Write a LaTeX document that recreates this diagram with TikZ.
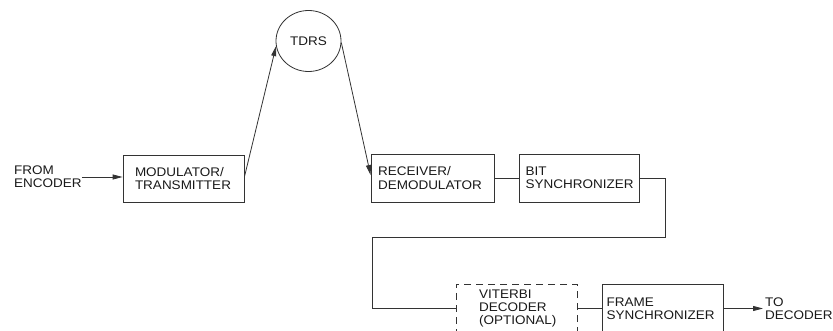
\documentclass[tikz,border=0pt]{standalone}
\usepackage{fontspec}
\setmainfont{Liberation Sans}[FakeStretch=1.08]
\usetikzlibrary{arrows.meta,shapes.geometric}
\begin{document}
\begin{tikzpicture}[x=1pt,y=-1pt,
  font=\fontsize{12.5}{13.3}\selectfont,
  ln/.style={draw=black!80, line width=0.8pt},
  arr/.style={ln, -{Triangle[length=10pt,width=5pt]}},
  blk/.style={ln, rectangle, align=left, inner ysep=0pt, text=black!90},
  lbl/.style={align=left, anchor=west, inner sep=0pt, text=black!90}]
\useasboundingbox (0,0) rectangle (833,331);
\node[blk, minimum height=47pt, text width=97pt, inner xsep=12pt] (mod) at (183.5,178.5) {MODULATOR/\\TRANSMITTER};
\node[blk, minimum height=48pt, text width=109pt, inner xsep=7pt] (rec) at (432.5,178) {RECEIVER/\\DEMODULATOR};
\node[blk, minimum height=48pt, text width=106.6pt, inner xsep=6.7pt] (bit) at (579,178) {BIT\\SYNCHRONIZER};
\node[blk, dash pattern=on 7pt off 5pt, minimum height=49pt, text width=75pt, inner xsep=23pt] (vit) at (516.5,308.5) {VITERBI\\DECODER\\(OPTIONAL)};
\node[blk, minimum height=48pt, text width=111.6pt, inner xsep=4.7pt] (frame) at (662.5,308.5) {FRAME\\SYNCHRONIZER};
\node[ln, ellipse, minimum width=65pt, minimum height=61pt, inner sep=0pt, text=black!90] (tdrs) at (308.5,41) {TDRS};
\node[lbl] (from) at (14,177) {FROM\\ENCODER};
\node[lbl] (to) at (765,308.5) {TO\\DECODER};
\coordinate (toend) at (763,308.5);
\coordinate (c1) at (665,237);
\coordinate (c2) at (372,237);
\draw[arr] (from.east) -- (from.east -| mod.west);
\draw[arr] ([yshift=1.5pt]mod.east) -- (tdrs.189);
\draw[arr] (tdrs.-3) -- ([yshift=3pt]rec.west);
\draw[ln] (rec.east) -- (bit.west);
\draw[ln] (bit.east) -| (c1) -- (c2) |- (vit.west);
\draw[ln] (vit.east) -- (frame.west);
\draw[arr] (frame.east) -- (toend);
\end{tikzpicture}
\end{document}
